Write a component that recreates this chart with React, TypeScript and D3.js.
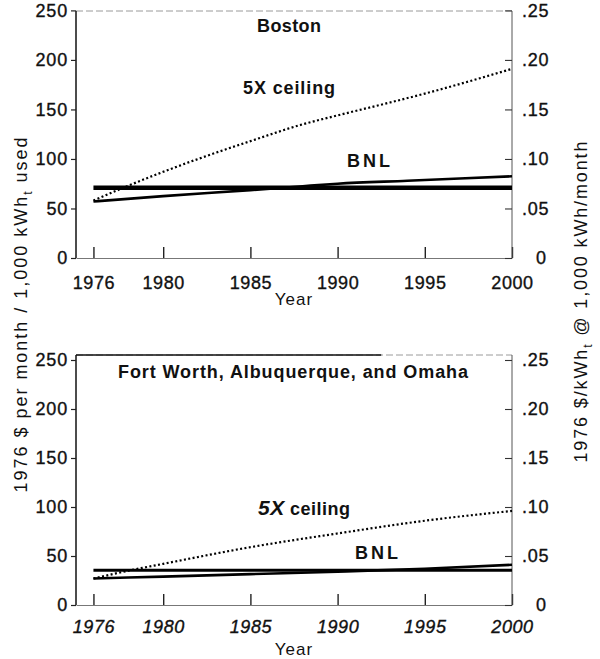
import { useEffect, useRef } from 'react'
import * as d3 from 'd3'

// tick values shared by both panels
const yearTicks = [1976, 1980, 1985, 1990, 1995, 2000]
const dollarTicks = [0, 50, 100, 150, 200, 250]
const rateTicks = [0, 0.05, 0.1, 0.15, 0.2, 0.25]

// Boston
const bostonCeilingYears = [1976, 1978, 1980, 1982, 1985, 1988, 1990, 1993, 1995, 2000]
const bostonCeiling = [58, 73, 87, 100, 118, 135, 144, 157, 166, 191]
const bostonBnlYears = [1976, 1980, 1985, 1988, 1990, 1994, 2000]
const bostonBnl = [57, 62.5, 68.5, 72.5, 75, 78, 82.5]
const bostonFlatYears = [1976, 2000]
const bostonFlat = [71, 71]

// Fort Worth, Albuquerque, and Omaha
const southCeilingYears = [1976, 1978, 1980, 1985, 1990, 1995, 2000]
const southCeiling = [27, 35, 42, 59, 73, 86, 96]
const southBnlYears = [1976, 1980, 1985, 1990, 1995, 2000]
const southBnl = [27, 29, 31.5, 34, 37, 41]
const southFlatYears = [1976, 2000]
const southFlat = [35.5, 35.5]

const FONT = "'Liberation Sans', Arial, Helvetica, sans-serif"

interface PanelOpts {
  y0: number
  y250: number
  frameY: number
  solidFrameTo?: number
  italicYears?: boolean
  ceiling: [number[], number[]]
  bnl: [number[], number[]]
  flat: [number[], number[]]
}

function drawPanel(svg: any, x: d3.ScaleLinear<number, number>, p: PanelOpts) {
  const y = d3.scaleLinear().domain([0, 250]).range([p.y0, p.y250])
  const yr = d3.scaleLinear().domain([0, 0.25]).range([p.y0, p.y250])
  const [xl, xr] = x.range()
  const g = svg.append('g')

  // top frame (faint, scanned look)
  g.append('line')
    .attr('x1', xl).attr('x2', xr)
    .attr('y1', p.frameY).attr('y2', p.frameY)
    .style('stroke', '#9a9a9a')
    .style('stroke-width', 1)
    .style('stroke-dasharray', '7,3')
  if (p.solidFrameTo) {
    g.append('line')
      .attr('x1', xl).attr('x2', x(p.solidFrameTo))
      .attr('y1', p.frameY).attr('y2', p.frameY)
      .style('stroke', '#111')
      .style('stroke-width', 1.6)
  }

  // bottom axis
  const bottom = g.append('g')
    .attr('transform', `translate(0,${p.y0})`)
    .call(d3.axisBottom(x).tickValues(yearTicks).tickFormat(d3.format('d')).tickSize(-11).tickSizeOuter(0).tickPadding(p.italicYears ? 15 : 18))
  bottom.select('.domain').style('stroke', '#777').style('stroke-width', 1)
  bottom.selectAll('.tick line').style('stroke', '#222').style('stroke-width', 1.4)
  bottom.selectAll('.tick text')
    .style('font-family', FONT).style('font-size', '18px').style('letter-spacing', '0.6px')
    .style('font-style', p.italicYears ? 'italic' : 'normal')
    .style('fill', '#111').style('stroke', '#111').style('stroke-width', 0.35)

  // left axis
  const left = g.append('g')
    .attr('transform', `translate(${xl},0)`)
    .call(d3.axisLeft(y).tickValues(dollarTicks).tickSize(5).tickSizeOuter(0).tickPadding(3))
  left.select('.domain').attr('d', `M0,${p.y0}V${p.frameY}`).style('stroke', '#111').style('stroke-width', 1.5)
  left.selectAll('.tick line').style('stroke', '#222').style('stroke-width', 1.2)
  left.selectAll('.tick text')
    .style('font-family', FONT).style('font-size', '18px').style('letter-spacing', '0.8px')
    .style('fill', '#111').style('stroke', '#111').style('stroke-width', 0.35)

  // right axis
  const right = g.append('g')
    .attr('transform', `translate(${xr},0)`)
    .call(d3.axisRight(yr).tickValues(rateTicks).tickSize(-7).tickSizeOuter(0).tickPadding(10)
      .tickFormat((d: any) => (d === 0 ? '0' : d3.format('.2f')(d).replace(/^0/, ''))))
  right.select('.domain').attr('d', `M0,${p.y0}V${p.frameY}`).style('stroke', '#555').style('stroke-width', 1)
  right.selectAll('.tick line').style('stroke', '#333').style('stroke-width', 1.1)
  right.selectAll('.tick text')
    .style('font-family', FONT).style('font-size', '18px').style('letter-spacing', '0.8px')
    .style('fill', '#111').style('stroke', '#111').style('stroke-width', 0.35)
    .attr('x', (d: any) => (d === 0 ? 24 : 10))

  const line = d3.line<[number, number]>()
    .x(d => x(d[0]))
    .y(d => y(d[1]))
    .curve(d3.curveMonotoneX)

  const pts = (s: [number[], number[]]) => s[0].map((yr, i) => [yr, s[1][i]] as [number, number])

  g.append('path')
    .attr('d', line(pts(p.flat)))
    .style('fill', 'none').style('stroke', '#000').style('stroke-width', p.y0 < 300 ? 4.5 : 3)

  g.append('path')
    .attr('d', line(pts(p.bnl)))
    .style('fill', 'none').style('stroke', '#000').style('stroke-width', 2.6)

  g.append('path')
    .attr('d', line(pts(p.ceiling)))
    .style('fill', 'none').style('stroke', '#000').style('stroke-width', 2.2)
    .style('stroke-dasharray', '2,2.4')

  return g
}

export default function App() {
  const svgRef = useRef<SVGSVGElement>(null)

  useEffect(() => {
    if (!svgRef.current) return
    const svg = d3.select(svgRef.current)
    svg.selectAll('*').remove()

    svg.append('rect').attr('width', 600).attr('height', 659).style('fill', '#fff')

    const x = d3.scaleLinear().domain([1975, 2000]).range([76, 512])

    drawPanel(svg, x, {
      y0: 258, y250: 10.4, frameY: 11,
      ceiling: [bostonCeilingYears, bostonCeiling],
      bnl: [bostonBnlYears, bostonBnl],
      flat: [bostonFlatYears, bostonFlat],
    })
    drawPanel(svg, x, {
      y0: 605, y250: 360, frameY: 355, solidFrameTo: 1992.5, italicYears: true,
      ceiling: [southCeilingYears, southCeiling],
      bnl: [southBnlYears, southBnl],
      flat: [southFlatYears, southFlat],
    })

    const label = (tx: number, ty: number, text: string, len: number) =>
      svg.append('text')
        .attr('x', tx).attr('y', ty)
        .attr('textLength', len).attr('lengthAdjust', 'spacing')
        .style('font-family', FONT).style('font-size', '18px').style('font-weight', 'bold')
        .style('fill', '#111')
        .text(text)

    label(257, 32, 'Boston', 64)
    label(243, 94, '5X ceiling', 92)
    label(347, 167, 'BNL', 43)
    label(118, 378, 'Fort Worth, Albuquerque, and Omaha', 350)
    label(355, 559, 'BNL', 43)

    // italic "5X" in the lower panel
    const c2 = svg.append('text')
      .attr('x', 258).attr('y', 515)
      .attr('textLength', 92).attr('lengthAdjust', 'spacing')
      .style('font-family', FONT).style('font-weight', 'bold').style('fill', '#111')
    c2.append('tspan').style('font-size', '21px').style('font-style', 'italic').text('5X')
    c2.append('tspan').style('font-size', '18px').text(' ceiling')

    // Year titles
    ;[305, 655].forEach(ty => {
      svg.append('text')
        .attr('x', 294).attr('y', ty)
        .attr('text-anchor', 'middle')
        .style('font-family', FONT).style('font-size', '17px').style('letter-spacing', '1px')
        .style('fill', '#111')
        .text('Year')
    })

    // left axis title
    const lt = svg.append('text')
      .attr('transform', 'translate(27,315) rotate(-90)')
      .attr('text-anchor', 'middle')
      .attr('textLength', 355).attr('lengthAdjust', 'spacing')
      .style('font-family', FONT).style('font-size', '18px').style('fill', '#111')
    lt.append('tspan').text('1976 $ per month / 1,000 kWh')
    lt.append('tspan').attr('dy', 5).style('font-size', '12px').text('t')
    lt.append('tspan').attr('dy', -5).text(' used')

    // right axis title
    const rt = svg.append('text')
      .attr('transform', 'translate(587,302) rotate(-90)')
      .attr('text-anchor', 'middle')
      .attr('textLength', 321).attr('lengthAdjust', 'spacing')
      .style('font-family', FONT).style('font-size', '18px').style('fill', '#111')
    rt.append('tspan').text('1976 $/kWh')
    rt.append('tspan').attr('dy', 5).style('font-size', '12px').text('t')
    rt.append('tspan').attr('dy', -5).text(' @ 1,000 kWh/month')
  }, [])

  return (
    <svg
      ref={svgRef}
      width={600}
      height={659}
      style={{ position: 'absolute', left: 0, top: 0, display: 'block' }}
    />
  )
}
